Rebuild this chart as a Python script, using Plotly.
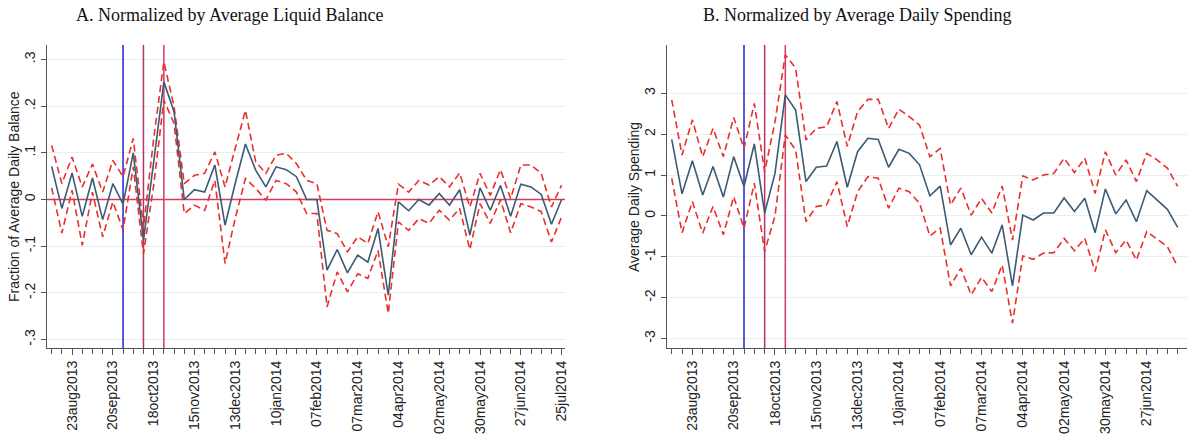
import pandas as pd
import plotly.graph_objects as go

# ---------------- data ----------------
start_week = "2013-08-09"
n_weeks_a = 51
n_weeks_b = 50

# Panel A: fraction of average daily balance
est_a = [0.071, -0.019, 0.057, -0.036, 0.046, -0.043, 0.034, -0.010, 0.100, -0.087,
         0.080, 0.252, 0.188, 0.000, 0.021, 0.016, 0.074, -0.055, 0.035, 0.119,
         0.063, 0.027, 0.070, 0.064, 0.049, 0.000, 0.000, -0.151, -0.107, -0.157,
         -0.119, -0.134, -0.062, -0.205, -0.005, -0.024, 0.000, -0.012, 0.013, -0.012,
         0.021, -0.076, 0.025, -0.023, 0.030, -0.036, 0.033, 0.027, 0.011, -0.053, 0.000]
hi_a = [0.116, 0.034, 0.091, 0.027, 0.076, 0.016, 0.084, 0.049, 0.131, -0.060,
        0.130, 0.295, 0.199, 0.034, 0.052, 0.056, 0.102, 0.027, 0.110, 0.191,
        0.081, 0.056, 0.095, 0.099, 0.077, 0.041, 0.034, -0.066, -0.073, -0.112,
        -0.080, -0.094, -0.026, -0.101, 0.033, 0.016, 0.041, 0.031, 0.049, 0.027,
        0.057, -0.016, 0.056, 0.009, 0.064, 0.002, 0.074, 0.074, 0.056, -0.016, 0.031]
lo_a = [0.025, -0.072, 0.020, -0.098, 0.016, -0.080, -0.005, -0.065, 0.070, -0.116,
        0.030, 0.213, 0.163, -0.030, -0.012, -0.023, 0.041, -0.137, -0.040, 0.045,
        0.024, -0.001, 0.041, 0.034, 0.016, -0.030, -0.030, -0.230, -0.155, -0.198,
        -0.159, -0.169, -0.109, -0.244, -0.048, -0.066, -0.041, -0.051, -0.023, -0.044,
        -0.019, -0.107, -0.009, -0.051, -0.001, -0.071, -0.009, -0.016, -0.026, -0.091, -0.037]

# Panel B: average daily spending
est_b = [1.87, 0.54, 1.35, 0.51, 1.21, 0.46, 1.45, 0.72, 1.76, 0.07,
         1.04, 2.96, 2.59, 0.84, 1.19, 1.22, 1.82, 0.70, 1.57, 1.90,
         1.87, 1.19, 1.63, 1.53, 1.25, 0.49, 0.73, -0.71, -0.30, -0.95,
         -0.52, -0.91, -0.22, -1.71, 0.02, -0.10, 0.07, 0.07, 0.44, 0.11,
         0.43, -0.41, 0.66, 0.05, 0.39, -0.14, 0.62, 0.39, 0.16, -0.28]
hi_b = [2.84, 1.49, 2.35, 1.45, 2.14, 1.45, 2.41, 1.65, 2.75, 1.08,
        2.30, 3.94, 3.61, 1.86, 2.14, 2.18, 2.80, 1.70, 2.55, 2.85,
        2.85, 2.14, 2.61, 2.43, 2.22, 1.45, 1.65, 0.27, 0.68, 0.02,
        0.43, 0.07, 0.73, -0.59, 0.98, 0.88, 1.00, 1.04, 1.41, 1.06,
        1.41, 0.55, 1.57, 1.00, 1.37, 0.84, 1.53, 1.37, 1.17, 0.72]
lo_b = [0.92, -0.41, 0.35, -0.42, 0.23, -0.46, 0.47, -0.30, 0.80, -0.87,
        0.00, 1.98, 1.61, -0.14, 0.23, 0.27, 0.84, -0.26, 0.59, 0.96,
        0.92, 0.19, 0.68, 0.59, 0.31, -0.49, -0.30, -1.71, -1.28, -1.93,
        -1.50, -1.85, -1.20, -2.62, -0.98, -1.06, -0.91, -0.90, -0.55, -0.85,
        -0.55, -1.36, -0.34, -0.90, -0.59, -1.08, -0.38, -0.57, -0.75, -1.24]

event_dates = ["2013-09-27", "2013-10-11", "2013-10-25"]
event_colors = ["#2424cc", "#b8306a", "#d23a5e"]

tick_dates = ["2013-08-23", "2013-09-20", "2013-10-18", "2013-11-15", "2013-12-13",
              "2014-01-10", "2014-02-07", "2014-03-07", "2014-04-04", "2014-05-02",
              "2014-05-30", "2014-06-27", "2014-07-25"]
tick_labels = ["23aug2013", "20sep2013", "18oct2013", "15nov2013", "13dec2013",
               "10jan2014", "07feb2014", "07mar2014", "04apr2014", "02may2014",
               "30may2014", "27jun2014", "25jul2014"]

ytick_a = [-0.3, -0.2, -0.1, 0, 0.1, 0.2, 0.3]
ytick_a_text = ["-.3", "-.2", "-.1", "0", ".1", ".2", ".3"]
ytick_b = [-3, -2, -1, 0, 1, 2, 3]
ytick_b_text = ["-3", "-2", "-1", "0", "1", "2", "3"]

# ---------------- figure ----------------
W, H = 1188, 442
weeks_a = pd.date_range(start_week, periods=n_weeks_a, freq="7D")
weeks_b = pd.date_range(start_week, periods=n_weeks_b, freq="7D")

LINE = "#3b5a74"
CI = "#e8302c"
GRID = "#e8eff1"
AX = "#555555"

fig = go.Figure()

def day_offset(d, days):
    return (pd.Timestamp(d) + pd.Timedelta(days=days)).strftime("%Y-%m-%d %H:%M")

xr_a = [day_offset(start_week, -3.2), day_offset(start_week, 50.33 * 7)]
xr_b = [day_offset(start_week, -3.4), day_offset(start_week, 49.9 * 7)]
yr_a = [-0.318, 0.331]
yr_b = [-3.23, 4.18]

# event lines drawn as traces (beneath the estimates)
def add_events(xa, ya, yr, xr, hline):
    for d, c in zip(event_dates, event_colors):
        fig.add_trace(go.Scatter(x=[d, d], y=yr, mode="lines", xaxis=xa, yaxis=ya,
                                 line=dict(color=c, width=1.5), showlegend=False,
                                 hoverinfo="skip"))
    if hline:
        fig.add_trace(go.Scatter(x=xr, y=[0, 0], mode="lines", xaxis=xa, yaxis=ya,
                                 line=dict(color="#d23a5e", width=1.5), showlegend=False,
                                 hoverinfo="skip"))

def add_panel(x, est, hi, lo, xa, ya):
    for ser in (hi, lo):
        fig.add_trace(go.Scatter(x=x, y=ser, mode="lines", xaxis=xa, yaxis=ya,
                                 line=dict(color=CI, width=1.6, dash="7px,4px"),
                                 showlegend=False, hoverinfo="skip"))
    fig.add_trace(go.Scatter(x=x, y=est, mode="lines", xaxis=xa, yaxis=ya,
                             line=dict(color=LINE, width=1.6), showlegend=False))

add_events("x", "y", yr_a, xr_a, True)
add_events("x2", "y2", yr_b, xr_b, False)
add_panel(weeks_a, est_a, hi_a, lo_a, "x", "y")
add_panel(weeks_b, est_b, hi_b, lo_b, "x2", "y2")

ydom = [1 - 348 / H, 1 - 45 / H]
tfont = dict(family="Liberation Sans, Arial", size=14, color="#222")
common_x = dict(type="date", showgrid=False, zeroline=False, showline=True,
                linecolor=AX, linewidth=1.3, ticks="outside", ticklen=6,
                tickcolor=AX, tickangle=-90, tickfont=tfont, automargin=False,
                tickvals=tick_dates, ticktext=tick_labels,
                minor=dict(ticks="outside", ticklen=5, tickcolor=AX,
                           dtick=7 * 86400000, tick0=start_week, showgrid=False))
common_y = dict(showgrid=True, gridcolor=GRID, gridwidth=1, zeroline=False,
                showline=True, linecolor=AX, linewidth=1.3, ticks="outside",
                ticklen=5, tickcolor=AX, tickangle=-90, tickfont=tfont,
                automargin=False, ticklabelstandoff=0)

fig.update_layout(
    width=W, height=H, margin=dict(l=0, r=0, t=0, b=0, autoexpand=False),
    paper_bgcolor="white", plot_bgcolor="white", showlegend=False,
    xaxis=dict(domain=[47 / W, 565 / W], anchor="y", range=xr_a, **common_x),
    yaxis=dict(domain=ydom, anchor="x", range=yr_a,
               tickvals=ytick_a, ticktext=ytick_a_text, **common_y),
    xaxis2=dict(domain=[666.7 / W, 1187 / W], anchor="y2", range=xr_b, **common_x),
    yaxis2=dict(domain=ydom, anchor="x2", range=yr_b,
                tickvals=ytick_b, ticktext=ytick_b_text, **common_y),
)

serif = dict(family="Liberation Serif, Times New Roman", size=18, color="#111")
sans = dict(family="Liberation Sans, Arial", size=14, color="#222")
fig.add_annotation(text="A. Normalized by Average Liquid Balance", x=230 / W, y=1 - 15 / H,
                   xref="paper", yref="paper", showarrow=False, font=serif,
                   xanchor="center", yanchor="middle")
fig.add_annotation(text="B. Normalized by Average Daily Spending", x=857 / W, y=1 - 15 / H,
                   xref="paper", yref="paper", showarrow=False, font=serif,
                   xanchor="center", yanchor="middle")
fig.add_annotation(text="Fraction of Average Daily Balance", x=14 / W, y=1 - 197 / H,
                   xref="paper", yref="paper", showarrow=False, font=sans,
                   textangle=-90, xanchor="center", yanchor="middle")
fig.add_annotation(text="Average Daily Spending", x=634 / W, y=1 - 197 / H,
                   xref="paper", yref="paper", showarrow=False, font=sans,
                   textangle=-90, xanchor="center", yanchor="middle")

fig.write_html("out.html", config={"displayModeBar": False},
               post_script="document.body.style.margin='0';document.body.style.overflow='hidden';")
